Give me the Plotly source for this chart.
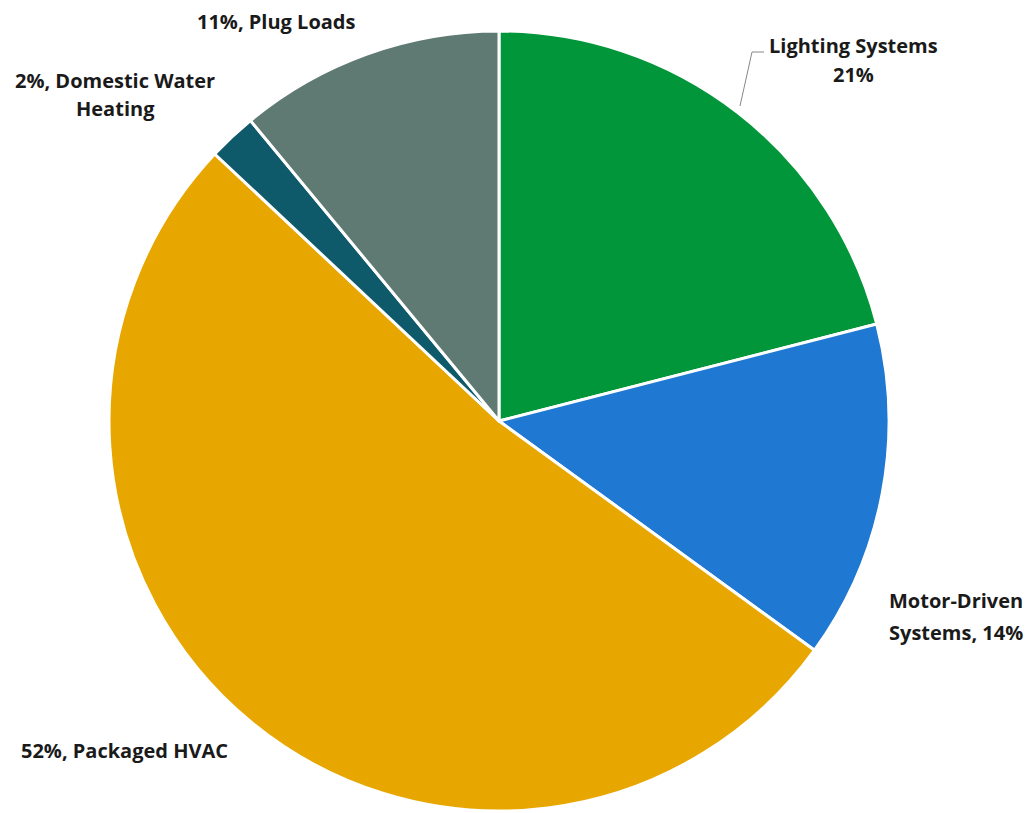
import plotly.graph_objects as go

categories = ["Lighting Systems", "Motor-Driven Systems", "Packaged HVAC",
              "Domestic Water Heating", "Plug Loads"]
values = [21, 14, 52, 2, 11]
colors = ["#009639", "#1f78d1", "#e8a600", "#0e5a6a", "#5f7a72"]

# label lines (text) and their pixel positions (centre x, centre y from top)
label_lines = [
    ("Lighting Systems", 853, 45),
    ("21%", 853, 75),
    ("Motor-Driven", 956, 600),
    ("Systems, 14%", 956, 632),
    ("52%, Packaged HVAC", 124, 750),
    ("2%, Domestic Water", 115, 80),
    ("Heating", 115, 109),
    ("11%, Plug Loads", 276, 22),
]

W, H = 1034, 813
cx, cy, r = 499, 421, 390

fig = go.Figure(go.Pie(
    labels=categories, values=values, sort=False, direction="clockwise",
    rotation=0, marker=dict(colors=colors, line=dict(color="white", width=3)),
    textinfo="none", hoverinfo="label+percent", showlegend=False,
    domain=dict(x=[(cx - r) / W, (cx + r) / W], y=[(H - cy - r) / H, (H - cy + r) / H]),
))

font = dict(family="Open Sans, sans-serif", size=20, color="#1a1a1a")
for txt, x, y in label_lines:
    fig.add_annotation(text="<b>%s</b>" % txt, x=x / W, y=1 - y / H, xref="paper", yref="paper",
                       xanchor="center", yanchor="middle", showarrow=False, font=font)

# leader line for Lighting Systems label
fig.add_shape(type="path", xref="paper", yref="paper",
              path="M %f %f L %f %f L %f %f" % (740 / W, 1 - 106 / H, 752 / W, 1 - 52 / H, 764 / W, 1 - 52 / H),
              line=dict(color="#888888", width=1))

fig.update_layout(width=W, height=H, margin=dict(l=0, r=0, t=0, b=0),
                  paper_bgcolor="white", plot_bgcolor="white")
fig.write_html("out.html")
